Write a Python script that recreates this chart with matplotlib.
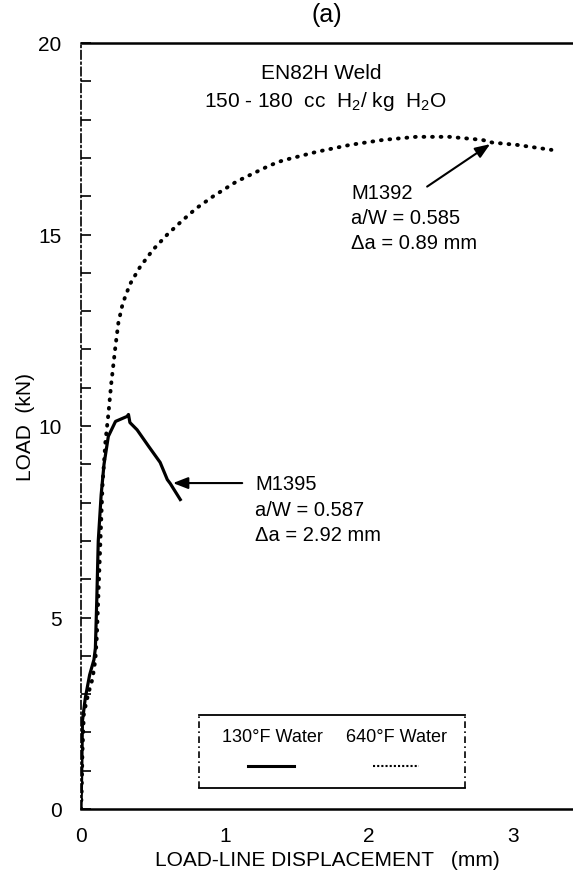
import numpy as np
import matplotlib
matplotlib.use("Agg")
import matplotlib.pyplot as plt

plt.rcParams["font.family"] = ["Liberation Sans", "DejaVu Sans"]
plt.rcParams["mathtext.fontset"] = "custom"
plt.rcParams["mathtext.rm"] = "Liberation Sans"
plt.rcParams["mathtext.it"] = "Liberation Sans:italic"

# 640F water (M1392), dotted curve
hot_x = [0, 0.005, 0.01, 0.02, 0.05, 0.08, 0.10, 0.11, 0.12, 0.13, 0.14, 0.15,
         0.17, 0.19, 0.21, 0.24, 0.26, 0.29, 0.34, 0.41, 0.50, 0.60, 0.70, 0.80,
         0.92, 1.08, 1.31, 1.40, 1.64, 1.87, 2.10, 2.33, 2.56, 2.79, 2.86, 3.03, 3.27]
hot_y = [0, 0.5, 1.5, 2.5, 3.0, 3.4, 3.9, 4.5, 5.5, 6.5, 7.5, 8.5,
         9.6, 10.3, 11.1, 12.1, 12.7, 13.2, 13.7, 14.15, 14.6, 15.0, 15.35, 15.68,
         16.0, 16.38, 16.8, 16.93, 17.16, 17.34, 17.47, 17.55, 17.55, 17.47, 17.40, 17.34, 17.21]

# 130F water (M1395), solid curve
cold_x = [0, 0.005, 0.01, 0.03, 0.06, 0.09, 0.10, 0.11, 0.12, 0.14, 0.16, 0.19,
          0.24, 0.32, 0.33, 0.34, 0.39, 0.47, 0.55, 0.60, 0.62, 0.69]
cold_y = [0, 1.0, 2.3, 2.9, 3.5, 3.9, 4.2, 5.5, 7.0, 8.2, 9.0, 9.73,
          10.12, 10.25, 10.3, 10.09, 9.9, 9.47, 9.05, 8.6, 8.5, 8.08]

x_ticks = [0, 1, 2, 3]
y_ticks = [0, 5, 10, 15, 20]

fig = plt.figure(figsize=(5.73, 8.78), dpi=100)
ax = fig.add_axes([81/573, 68/878, 1 - 81/573, 766/878])

ax.plot(cold_x, cold_y, color="black", lw=2.3, solid_joinstyle="round")
ax.plot(hot_x, hot_y, color="black", lw=2.8, linestyle=(0, (0.2, 2.0)),
        dash_capstyle="round")

ax.set_xlim(0, 3.42)
ax.set_ylim(0, 20)
ax.set_xticks(x_ticks)
ax.set_yticks(y_ticks)
ax.set_yticks(np.arange(0, 21, 1), minor=True)
ax.tick_params(axis="y", which="both", direction="in", length=7, width=1.2,
               labelsize=15, pad=14)
ax.tick_params(axis="x", length=0, labelsize=15, pad=12)

ax.spines["right"].set_visible(False)
ax.spines["top"].set_linewidth(1.8)
ax.spines["bottom"].set_linewidth(1.8)
ax.spines["left"].set_linewidth(1.2)
ax.spines["left"].set_linestyle((0, (5, 2, 1, 2)))

ax.set_xlabel("LOAD-LINE DISPLACEMENT   (mm)", fontsize=15, labelpad=4)
ax.set_ylabel("LOAD  (kN)", fontsize=15, labelpad=2)
ax.set_title("(a)", fontsize=18, pad=16)

ax.text(1.67, 19.24, "EN82H Weld", fontsize=15, ha="center", va="center")
ax.text(1.70, 18.5, r"150 - 180  cc  H$_2$/ kg  H$_2$O", fontsize=15,
        ha="center", va="center")

# annotations
ax.annotate("", xy=(2.86, 17.4), xytext=(2.39, 16.21),
            arrowprops=dict(arrowstyle="-|>,head_length=0.9,head_width=0.35",
                            color="black", lw=1.5))
for i, s in enumerate(["M1392", "a/W = 0.585", "\u0394a = 0.89 mm"]):
    ax.text(1.88, 16.1 - i * 0.66, s, fontsize=14.5, ha="left", va="center")

ax.annotate("", xy=(0.62, 8.51), xytext=(1.14, 8.51),
            arrowprops=dict(arrowstyle="-|>,head_length=0.9,head_width=0.35",
                            color="black", lw=1.5))
for i, s in enumerate(["M1395", "a/W = 0.587", "\u0394a = 2.92 mm"]):
    ax.text(1.21, 8.49 - i * 0.66, s, fontsize=14.5, ha="left", va="center")

# hand-drawn style legend box
ax.plot([0.82, 2.67], [2.45, 2.45], color="black", lw=1.3)
ax.plot([0.82, 2.67], [0.55, 0.55], color="black", lw=1.3)
ax.plot([0.82, 0.82], [0.55, 2.45], color="black", lw=1.2, linestyle=(0, (4, 2, 1, 2)))
ax.plot([2.67, 2.67], [0.55, 2.45], color="black", lw=1.2, linestyle=(0, (4, 2, 1, 2)))
ax.text(1.33, 1.9, "130\u00b0F Water", fontsize=13, ha="center", va="center")
ax.text(2.19, 1.9, "640\u00b0F Water", fontsize=13, ha="center", va="center")
ax.plot([1.16, 1.48], [1.12, 1.12], color="black", lw=2.2)
ax.plot([2.03, 2.35], [1.12, 1.12], color="black", lw=1.5, linestyle=(0, (1, 1)))

fig.savefig("out.png", dpi=100)
